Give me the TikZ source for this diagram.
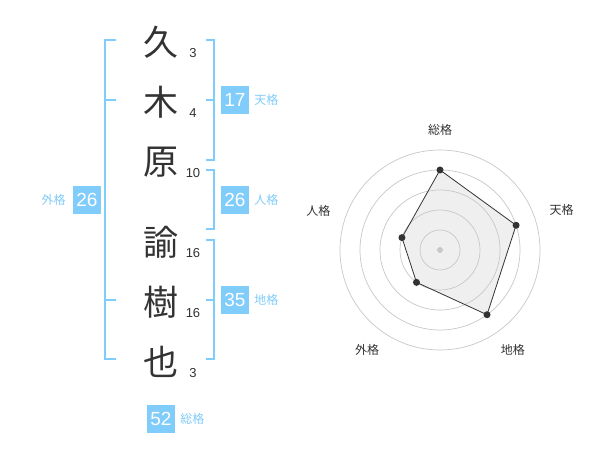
\documentclass[tikz,border=0pt]{standalone}
\usepackage{fontspec}
\usetikzlibrary{positioning}
\setmainfont{Liberation Sans}
\newfontfamily\cjk{Noto Sans CJK JP}
\definecolor{skyblue}{RGB}{128,204,250}
\definecolor{inkgray}{RGB}{51,51,51}
\definecolor{ringgray}{RGB}{200,200,200}
\definecolor{areagray}{RGB}{225,225,225}
\tikzset{
  kanji/.style={inkgray,font=\cjk\fontsize{35}{35}\selectfont,inner sep=0pt},
  strokes/.style={inkgray,font=\fontsize{13}{13}\selectfont,inner sep=0pt},
  bracket/.style={skyblue,line width=2pt},
  score/.style={fill=skyblue,text=white,minimum size=28pt,inner sep=0pt,font=\fontsize{19}{19}\selectfont},
  grade/.style={skyblue,font=\cjk\fontsize{12}{12}\selectfont,inner sep=0pt},
  axis/.style={inkgray,font=\cjk\fontsize{12}{12}\selectfont,inner sep=0pt}
}
\begin{document}
\begin{tikzpicture}[x=1pt,y=-1pt]
  \useasboundingbox[fill=white] (0,0) rectangle (600,470);

  % name and stroke counts
  \node[kanji] (c1) at (161,42) {久};
  \node[kanji] (c2) at (161,102) {木};
  \node[kanji] (c3) at (161,162) {原};
  \node[kanji] (c4) at (161,242) {諭};
  \node[kanji] (c5) at (161,302) {樹};
  \node[kanji] (c6) at (161,362) {也};
  \node[strokes] (s1) at (193,53) {3};
  \node[strokes] (s2) at (193,113) {4};
  \node[strokes] (s3) at (193,173) {10};
  \node[strokes] (s4) at (193,253) {16};
  \node[strokes] (s5) at (193,313) {16};
  \node[strokes] (s6) at (193,373) {3};

  % brackets
  \draw[bracket] (116,40) -- (105,40) -- (105,359) -- (116,359);
  \draw[bracket] (105,100) -- (116,100);
  \draw[bracket] (105,300) -- (116,300);
  \draw[bracket] (206,40) -- (214,40) -- (214,160) -- (206,160);
  \draw[bracket] (206,100) -- (214,100);
  \draw[bracket] (206,170) -- (214,170) -- (214,229) -- (206,229);
  \draw[bracket] (206,240) -- (214,240) -- (214,359) -- (206,359);
  \draw[bracket] (206,300) -- (214,300);

  % scores
  \node[score] (gai) at (87,200) {26};
  \node[grade,left=7pt of gai] (gaiL) {外格};
  \node[score] (ten) at (235,100) {17};
  \node[grade,right=5pt of ten] (tenL) {天格};
  \node[score] (jin) at (235,200) {26};
  \node[grade,right=5pt of jin] (jinL) {人格};
  \node[score] (chi) at (235,300) {35};
  \node[grade,right=5pt of chi] (chiL) {地格};
  \node[score] (sou) at (161,419) {52};
  \node[grade,right=5pt of sou] (souL) {総格};

  % radar
  \begin{scope}[shift={(440,250)},y=1pt]
    \coordinate (pSou) at (90:80);
    \coordinate (pTen) at (18:80);
    \coordinate (pChi) at (-54:80);
    \coordinate (pGai) at (-126:40);
    \coordinate (pJin) at (162:40);
    \fill[areagray,fill opacity=0.5]
      (pSou) -- (pTen) -- (pChi) -- (pGai) -- (pJin) -- cycle;

    \draw[ringgray,line width=0.7pt] (0,0) circle [radius=20];
    \draw[ringgray,line width=0.7pt] (0,0) circle [radius=40];
    \draw[ringgray,line width=0.7pt] (0,0) circle [radius=60];
    \draw[ringgray,line width=0.7pt] (0,0) circle [radius=80];
    \draw[ringgray,line width=0.7pt] (0,0) circle [radius=100];
    \fill[ringgray] (0,0) circle [radius=3];

    \draw[inkgray,line width=0.8pt]
      (pSou) -- (pTen) -- (pChi) -- (pGai) -- (pJin) -- cycle;
    \fill[inkgray] (pSou) circle [radius=3.5];
    \fill[inkgray] (pTen) circle [radius=3.5];
    \fill[inkgray] (pChi) circle [radius=3.5];
    \fill[inkgray] (pGai) circle [radius=3.5];
    \fill[inkgray] (pJin) circle [radius=3.5];

    \node[axis] (aSou) at (90:120) {総格};
    \node[axis] (aTen) at (18:128) {天格};
    \node[axis] (aChi) at (-54:124) {地格};
    \node[axis] (aGai) at (-126:124) {外格};
    \node[axis] (aJin) at (162:128) {人格};
  \end{scope}
\end{tikzpicture}
\end{document}
